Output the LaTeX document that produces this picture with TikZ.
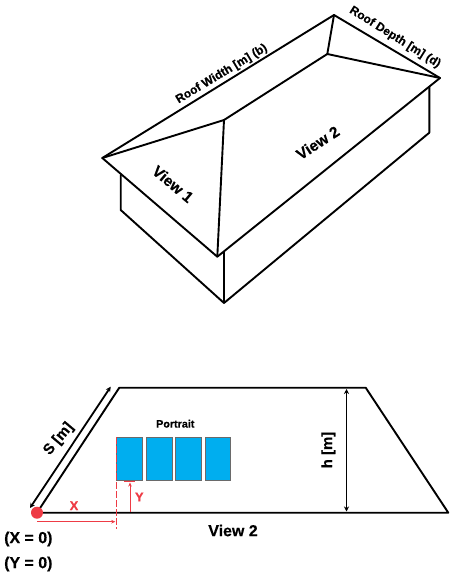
\documentclass[tikz,border=0pt]{standalone}
\usepackage{fontspec}
\setmainfont[BoldFeatures={FakeBold=0.4}]{Liberation Sans}
\definecolor{panelblue}{HTML}{00AEEF}
\definecolor{panelgray}{HTML}{6A6A6A}
\definecolor{markred}{HTML}{EE3B45}
\usetikzlibrary{arrows.meta}
\tikzset{
  roof/.style={line width=1.9bp,line cap=round,line join=round},
  thickline/.style={line width=1.9bp,line cap=round,line join=round},
  dimarrow/.style={line width=1.8bp,{Stealth[length=5bp,width=5bp]}-{Stealth[length=5bp,width=5bp]}},
  redarrow/.style={markred,line width=1bp,-{Stealth[length=4bp,width=3.5bp]}},
  panel/.style={draw=panelgray,fill=panelblue,line width=1bp},
  lab/.style={font=\bfseries\fontsize{#1}{#1}\selectfont,inner sep=0pt,text=black},
  redlab/.style={font=\bfseries\fontsize{13}{13}\selectfont,inner sep=0pt,text=markred}
}
\begin{document}
\begin{tikzpicture}[x=1bp,y=-1bp]
\useasboundingbox (0,0) rectangle (457,583);
\fill[white] (0,0) rectangle (457,583);
% roof corners
\coordinate (A) at (102.3,158);
\coordinate (B) at (224,120);
\coordinate (C) at (327.3,54);
\coordinate (D) at (334,15);
\coordinate (E) at (440,78);
\coordinate (F) at (217.3,256.7);
% wall corners
\coordinate (W1) at (120.7,175);
\coordinate (W2) at (120.7,210);
\coordinate (W3) at (224,303);
\coordinate (W4) at (224,252);
\coordinate (W5) at (429.3,87);
\coordinate (W6) at (429.3,132.7);
\draw[roof] (A) -- (D) -- (E) -- (F) -- cycle;
\draw[roof] (A) -- (B) -- (C) -- (D);
\draw[roof] (C) -- (E);
\draw[roof] (B) -- (F);
\draw[roof] (W1) -- (W2) -- (W3) -- (W6) -- (W5);
\draw[roof] (W3) -- (W4);
\node[lab=12,rotate=31] (rw) at (221.7,74) {Roof Width [m] (b)};
\node[lab=12,rotate=-32] (rd) at (395,37.3) {Roof Depth [m] (d)};
\node[lab=15.5,rotate=-40] (v1) at (173,184) {View 1};
\node[lab=15.5,rotate=33] (v2) at (317.7,142.7) {View 2};
% lower figure
\coordinate (O) at (37,512.7);
\coordinate (TL) at (119.3,387.7);
\coordinate (TR) at (365.7,387.7);
\coordinate (BR) at (448.3,512.7);
\draw[thickline] (O) -- (TL) -- (TR) -- (BR) -- cycle;
\coordinate (S1) at (110.7,386.7);
\coordinate (S2) at (30,508);
\draw[dimarrow] (S1) -- (S2);
\coordinate (H1) at (346.5,389);
\coordinate (H2) at (346.5,511.5);
\draw[dimarrow] (H1) -- (H2);
\node[lab=15,rotate=50] (sl) at (58.7,439) {S [m]};
\node[lab=15,rotate=90] (hl) at (328.3,450) {h [m]};
\node[lab=10.8] (pl) at (175.3,423.7) {Portrait};
\node[lab=16] (v3) at (233,530.5) {View 2};
\node[lab=16,anchor=west] (x0) at (4,539) {(X = 0)};
\node[lab=16,anchor=west] (y0) at (4,564) {(Y = 0)};
\node[panel,minimum width=26bp,minimum height=43.3bp,inner sep=0pt] (p1) at (129.7,458.7) {};
\node[panel,minimum width=25.7bp,minimum height=43.3bp,inner sep=0pt] (p2) at (159.2,458.7) {};
\node[panel,minimum width=25.7bp,minimum height=43.3bp,inner sep=0pt] (p3) at (188.5,458.7) {};
\node[panel,minimum width=25.3bp,minimum height=43.3bp,inner sep=0pt] (p4) at (217.7,458.7) {};
% red marks
\coordinate (D1) at (116.3,437);
\coordinate (D2) at (116.3,529);
\draw[markred,line width=1bp,dash pattern=on 7bp off 2bp] (D1) -- (D2);
\coordinate (X0) at (37,521.7);
\coordinate (X1) at (115.3,521.7);
\draw[redarrow] (X0) -- (X1);
\coordinate (Y0) at (130,512);
\coordinate (Y1) at (130,482.5);
\draw[redarrow] (Y0) -- (Y1);
\coordinate (YA) at (124,481);
\coordinate (YB) at (135,481);
\draw[markred,line width=1bp] (YA) -- (YB);
\node[circle,fill=markred,minimum size=12bp,inner sep=0pt] (dot) at (37,512.7) {};
\node[redlab] (xl) at (74,505.7) {X};
\node[redlab] (yl) at (139.3,497) {Y};
\end{tikzpicture}
\end{document}
